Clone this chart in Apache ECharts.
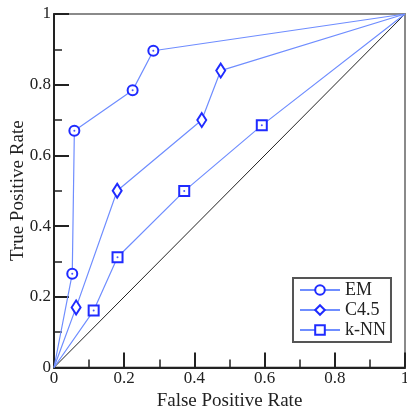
<!DOCTYPE html>
<html>
<head>
<meta charset="utf-8">
<script src="https://cdn.jsdelivr.net/npm/echarts@6/dist/echarts.min.js"></script>
<style>
html,body{margin:0;padding:0;background:#fff;}
#chart{width:407px;height:414px;}
</style>
</head>
<body>
<div id="chart"></div>
<script>
const seriesNames = ['EM', 'C4.5', 'k-NN'];
const emFpr = [0, 0.052, 0.058, 0.224, 0.283, 1];
const emTpr = [0, 0.265, 0.670, 0.784, 0.896, 1];
const c45Fpr = [0, 0.063, 0.180, 0.421, 0.475, 1];
const c45Tpr = [0, 0.170, 0.500, 0.700, 0.840, 1];
const knnFpr = [0, 0.113, 0.181, 0.371, 0.592, 1];
const knnTpr = [0, 0.161, 0.312, 0.499, 0.685, 1];
const diagX = [0, 1];
const diagY = [0, 1];

const FONT = "'Liberation Serif', 'Times New Roman', serif";
const LINE_C = '#6f8dff';
const MARK_C = '#1f2bff';
const TEXT_C = '#222';

function pts(xs, ys) {
  return xs.map((x, i) => {
    const item = { value: [x, ys[i]] };
    if (i === 0 || i === xs.length - 1) item.symbol = 'none';
    return item;
  });
}
function inner(xs, ys) {
  return xs.slice(1, -1).map((x, i) => [x, ys[i + 1]]);
}

const chart = echarts.init(document.getElementById('chart'), null, { renderer: 'canvas' });

function lineSeries(name, xs, ys, symbol, size) {
  return {
    name: name,
    type: 'line',
    data: pts(xs, ys),
    symbol: symbol,
    symbolSize: size,
    showAllSymbol: true,
    lineStyle: { color: LINE_C, width: 1.2 },
    itemStyle: { color: MARK_C, borderColor: MARK_C, borderWidth: 1.5 },
    emphasis: { disabled: true },
    z: 3
  };
}
function dotSeries(xs, ys) {
  return {
    type: 'scatter',
    data: inner(xs, ys),
    symbol: 'circle',
    symbolSize: 2,
    itemStyle: { color: MARK_C },
    silent: true,
    z: 5
  };
}

const axisCommon = {
  type: 'value',
  min: 0,
  max: 1,
  interval: 0.2,
  splitLine: { show: false },
  axisLine: { show: true, lineStyle: { color: '#222', width: 2 } },
  axisTick: { show: true, inside: true, length: 15, lineStyle: { color: '#222', width: 2 } },
  minorTick: { show: true, splitNumber: 2, length: 8, lineStyle: { color: '#222', width: 1.5 } },
  axisLabel: { fontFamily: FONT, fontSize: 17, color: TEXT_C, margin: 3 },
  nameMoveOverlap: false,
  nameTextStyle: { fontFamily: FONT, fontSize: 19, color: TEXT_C }
};

chart.setOption({
  animation: false,
  backgroundColor: '#fff',
  grid: {
    left: 54, top: 14, width: 351, height: 353.5,
    outerBoundsMode: 'none',
    containLabel: false,
    show: true, borderColor: '#8a8a8a', borderWidth: 2
  },
  xAxis: Object.assign({}, axisCommon, {
    name: 'False Positive Rate',
    nameLocation: 'middle',
    nameGap: 24
  }),
  yAxis: Object.assign({}, axisCommon, {
    name: 'True Positive Rate',
    nameLocation: 'middle',
    nameGap: 26
  }),
  legend: {
    data: seriesNames,
    orient: 'vertical',
    left: 293,
    top: 278,
    padding: [3, 5, 3, 6],
    itemWidth: 40,
    itemHeight: 12,
    itemGap: 2,
    backgroundColor: '#fff',
    borderColor: '#555',
    borderWidth: 2,
    borderRadius: 0,
    textStyle: { fontFamily: FONT, fontSize: 18, color: TEXT_C, padding: [0, 0, 0, 0] }
  },
  series: [
    {
      type: 'line',
      data: diagX.map((x, i) => [x, diagY[i]]),
      symbol: 'none',
      lineStyle: { color: '#222', width: 1 },
      silent: true,
      z: 2
    },
    lineSeries('EM', emFpr, emTpr, 'emptyCircle', 10),
    lineSeries('C4.5', c45Fpr, c45Tpr, 'emptyDiamond', [9, 14]),
    lineSeries('k-NN', knnFpr, knnTpr, 'emptyRect', 10),
    dotSeries(emFpr, emTpr),
    dotSeries(knnFpr, knnTpr)
  ]
});
</script>
</body>
</html>
